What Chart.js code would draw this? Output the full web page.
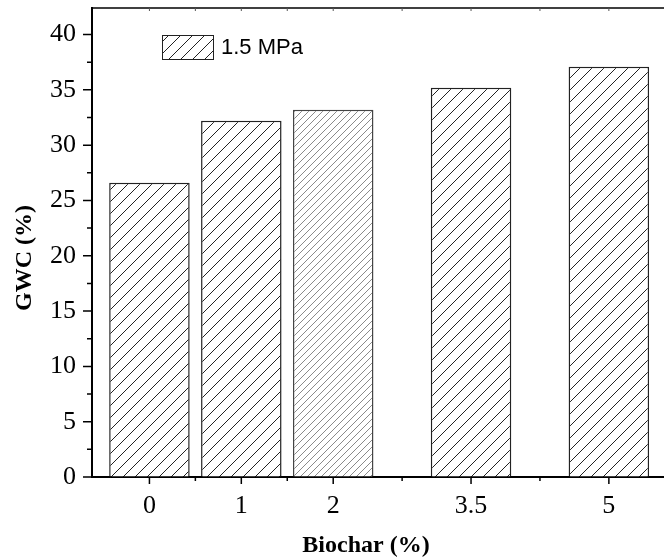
<!DOCTYPE html>
<html>
<head>
<meta charset="utf-8">
<script src="https://cdn.jsdelivr.net/npm/chart.js@4"></script>
<style>
  html, body { margin: 0; padding: 0; background: #fff; }
  #wrap { width: 664px; height: 558px; position: relative; }
</style>
</head>
<body>
<div id="wrap"><canvas id="gwcChart"></canvas></div>
<script>
// 데이터
const biochar = [0, 1, 2, 3.5, 5];
const gwc = [26.6, 32.2, 33.2, 35.2, 37.1];
const xTickValues = [0, 1, 2, 3.5, 5];
const xMinorTicks = [0.5, 1.5, 2.75, 4.25];
const yTickValues = [0, 5, 10, 15, 20, 25, 30, 35, 40];
const yMinorTicks = [2.5, 7.5, 12.5, 17.5, 22.5, 27.5, 32.5, 37.5];
const seriesLabel = '1.5 MPa';

// 빗금 패턴
function makeHatch(size, color) {
    const c = document.createElement('canvas');
    c.width = size;
    c.height = size;
    const g = c.getContext('2d');
    g.fillStyle = '#fff';
    g.fillRect(0, 0, size, size);
    g.strokeStyle = color;
    g.lineWidth = 1;
    g.beginPath();
    g.moveTo(0, size); g.lineTo(size, 0);
    g.moveTo(-1, 1); g.lineTo(1, -1);
    g.moveTo(size - 1, size + 1); g.lineTo(size + 1, size - 1);
    g.stroke();
    return g.createPattern(c, 'repeat');
}

const ctx = document.getElementById('gwcChart');
const blackHatch = makeHatch(12, '#222');
const greyHatch = makeHatch(7, '#8a8a8a');
const fills = biochar.map((v, i) => i === 2 ? greyHatch : blackHatch);
const edges = biochar.map((v, i) => i === 2 ? '#444' : '#222');

// 눈금, 윗선, 범례, 축 제목
const extrasPlugin = {
    id: 'extras',
    afterDraw(chart) {
        const c = chart.ctx;
        const area = chart.chartArea;
        const xs = chart.scales.x;
        const ys = chart.scales.y;
        c.save();
        c.strokeStyle = '#000';
        c.lineWidth = 1.5;
        c.beginPath();
        yTickValues.forEach(v => {
            const y = ys.getPixelForValue(v);
            c.moveTo(area.left - 9, y); c.lineTo(area.left, y);
        });
        yMinorTicks.forEach(v => {
            const y = ys.getPixelForValue(v);
            c.moveTo(area.left - 5, y); c.lineTo(area.left, y);
        });
        xTickValues.forEach(v => {
            const x = xs.getPixelForValue(v);
            c.moveTo(x, area.bottom); c.lineTo(x, area.bottom + 7);
        });
        xMinorTicks.forEach(v => {
            const x = xs.getPixelForValue(v);
            c.moveTo(x, area.bottom); c.lineTo(x, area.bottom + 4);
        });
        c.stroke();

        // 윗선
        c.lineWidth = 1.5;
        c.beginPath();
        c.moveTo(area.left, area.top); c.lineTo(area.right, area.top);
        c.stroke();
        c.lineWidth = 1;
        c.strokeStyle = '#555';
        c.beginPath();
        xTickValues.concat(xMinorTicks).forEach(v => {
            const x = xs.getPixelForValue(v);
            c.moveTo(x, area.top); c.lineTo(x, area.top + 3);
        });
        c.stroke();

        // 범례
        c.fillStyle = blackHatch;
        c.fillRect(162, 35, 51, 24);
        c.strokeStyle = '#222';
        c.lineWidth = 1;
        c.strokeRect(162.5, 35.5, 51, 24);
        c.fillStyle = '#000';
        c.font = '22px "Liberation Sans", Arial, sans-serif';
        c.textAlign = 'left';
        c.textBaseline = 'middle';
        c.fillText(seriesLabel, 221, 48);

        // 축 제목
        c.font = 'bold 24px "Liberation Serif", "Times New Roman", serif';
        c.textAlign = 'center';
        c.fillText('Biochar (%)', 366, 546);
        c.translate(25, 258);
        c.rotate(-Math.PI / 2);
        c.fillText('GWC (%)', 0, 0);
        c.restore();
    }
};

const tickFont = { family: '"Liberation Serif", "Times New Roman", serif', size: 26 };

new Chart(ctx, {
    type: 'bar',
    data: {
        datasets: [{
            label: seriesLabel,
            data: biochar.map((x, i) => ({ x: x, y: gwc[i] })),
            backgroundColor: fills,
            borderColor: edges,
            borderWidth: 1.5,
            barPercentage: 0.876,
            categoryPercentage: 1
        }]
    },
    options: {
        responsive: true,
        maintainAspectRatio: false,
        animation: false,
        layout: { padding: { top: 8, right: 0, left: 0, bottom: 0 } },
        plugins: {
            legend: { display: false },
            tooltip: { enabled: false }
        },
        scales: {
            x: {
                type: 'linear',
                offset: false,
                min: -0.625,
                max: 5.6,
                afterBuildTicks: s => { s.ticks = xTickValues.map(v => ({ value: v })); },
                afterFit: s => {
                    s.height = 81;
                    s.paddingLeft = 0;
                    s.paddingRight = 0;
                },
                ticks: {
                    callback: v => String(v),
                    autoSkip: false,
                    maxRotation: 0,
                    color: '#000',
                    font: tickFont,
                    padding: 14
                },
                grid: { drawOnChartArea: false, drawTicks: false },
                border: { display: true, color: '#000', width: 2 }
            },
            y: {
                min: 0,
                max: 42.4,
                afterBuildTicks: s => { s.ticks = yTickValues.map(v => ({ value: v })); },
                afterFit: s => {
                    s.width = 92;
                    s.paddingTop = 0;
                    s.paddingBottom = 0;
                },
                ticks: {
                    color: '#000',
                    font: tickFont,
                    padding: 16
                },
                grid: { drawOnChartArea: false, drawTicks: false },
                border: { display: true, color: '#000', width: 2 }
            }
        }
    },
    plugins: [extrasPlugin]
});
</script>
</body>
</html>
